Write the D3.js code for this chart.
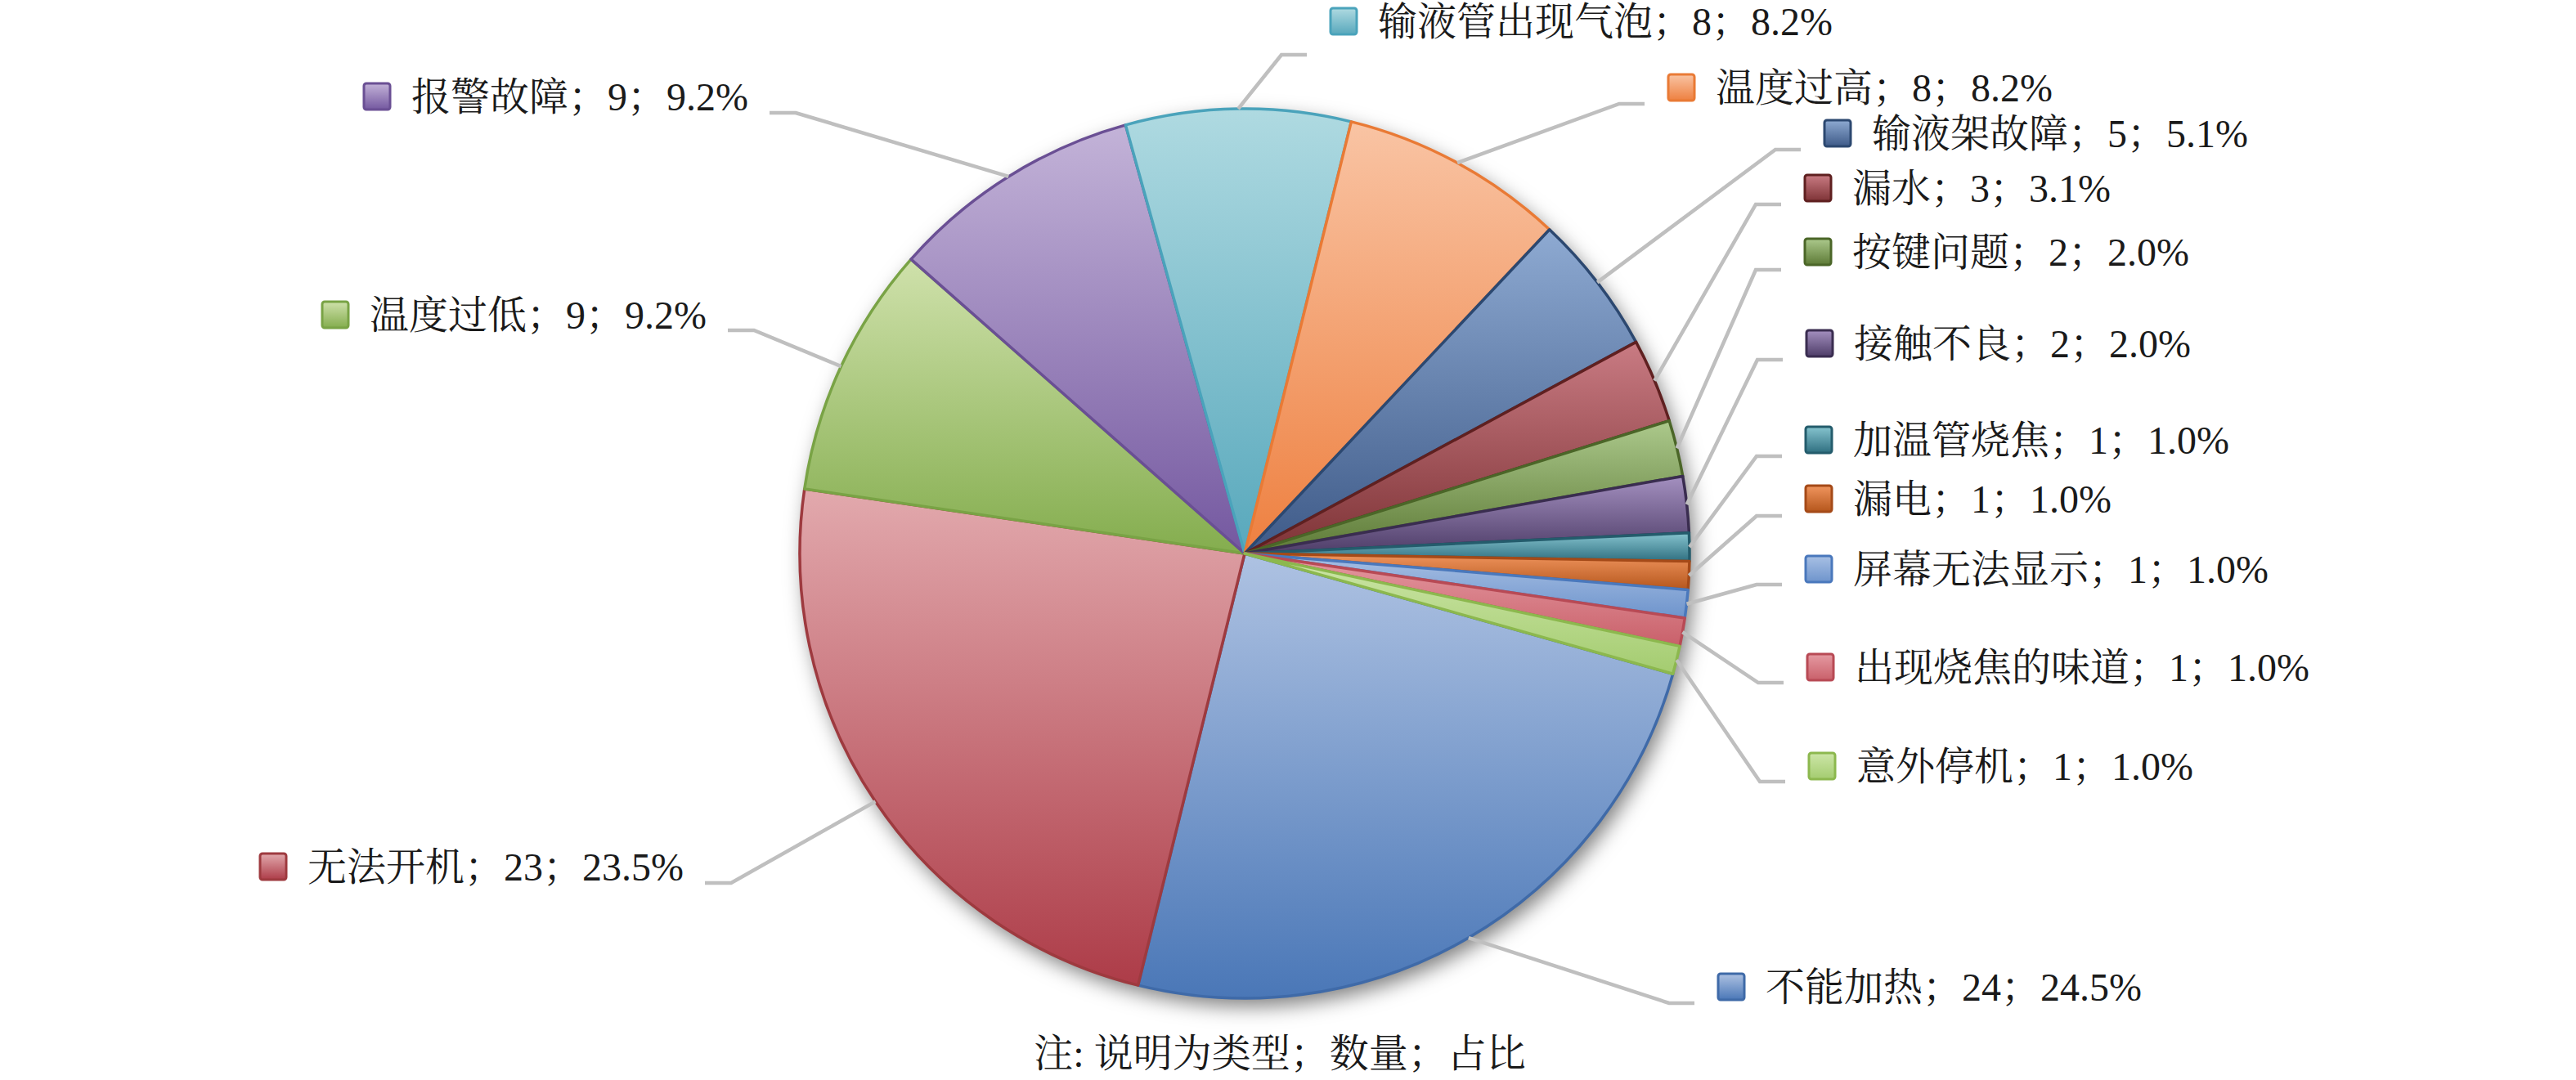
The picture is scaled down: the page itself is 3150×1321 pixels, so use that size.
<!DOCTYPE html>
<html>
<head>
<meta charset="utf-8">
<script src="https://cdn.jsdelivr.net/npm/d3@7"></script>
<style>
  html, body { margin: 0; padding: 0; background: #fff; }
  text { font-family: "Noto Serif CJK SC", "Noto Sans CJK SC", serif; fill: #1a1a1a; }
  tspan.num { font-family: "Liberation Serif", "Times New Roman", Tinos, "DejaVu Serif", serif; }
</style>
</head>
<body>
<div id="chart"></div>
<script>
// data, in the order the slices are drawn (clockwise)
var categories = ['不能加热', '无法开机', '温度过低', '报警故障', '输液管出现气泡', '温度过高',
  '输液架故障', '漏水', '按键问题', '接触不良', '加温管烧焦', '漏电',
  '屏幕无法显示', '出现烧焦的味道', '意外停机'];
var counts = [24, 23, 9, 9, 8, 8, 5, 3, 2, 2, 1, 1, 1, 1, 1];

// slice styles: gradient top, gradient bottom, outline
var fillTop = ['#aec2e2', '#e2a9ad', '#cfe1ab', '#c3b3d8', '#afdae1', '#f9c4a4',
  '#8eaad2', '#c97b83', '#acc98c', '#a490c0', '#86c4cf', '#f0955e',
  '#a8c0e4', '#e59aa2', '#cde6a8'];
var fillBottom = ['#4a77b7', '#ad3c48', '#84ad4e', '#7458a0', '#58a8bc', '#ee8040',
  '#3e5a88', '#7e3336', '#5d7a36', '#4e3d68', '#2f6f80', '#b5561c',
  '#6e94cc', '#c9606a', '#a4cc70'];
var strokeCol = ['#3f6aa8', '#9e3a3f', '#79a345', '#6a4f94', '#4aa3bb', '#e97a35',
  '#2c4870', '#5f2020', '#4b6628', '#3a2d50', '#245c6c', '#a54a18',
  '#4a78bc', '#b84a55', '#8cb84e'];

// label layout: key box left x, label centre y, leader line y, side
var labelX = [2101, 318, 394, 445, 1627, 2040, 2231, 2207, 2207, 2209, 2208, 2208, 2208, 2210, 2212];
var labelY = [1207, 1060, 385, 118, 26, 107, 163, 230, 308, 420, 538, 610, 696, 816, 937];
var lineY  = [1227, 1080, 404, 138, 67, 127, 183, 250, 330, 440, 558, 631, 715, 835, 956];
var side   = ['r', 'l', 'l', 'l', 'r', 'r', 'r', 'r', 'r', 'r', 'r', 'r', 'r', 'r', 'r'];

var width = 3150, height = 1321;
var cx = 1522, cy = 677, radius = 544;
var startDeg = 105.7;
var fontSize = 48, keySize = 32;

var total = d3.sum(counts);
var fmtPct = d3.format('.1%');

var svg = d3.select('#chart').append('svg')
  .attr('width', width)
  .attr('height', height)
  .style('display', 'block');

svg.append('rect').attr('width', width).attr('height', height).attr('fill', '#fff');

var defs = svg.append('defs');

var shadow = defs.append('filter').attr('id', 'shadow')
  .attr('x', '-20%').attr('y', '-20%').attr('width', '140%').attr('height', '140%');
shadow.append('feDropShadow')
  .attr('dx', 6).attr('dy', 10).attr('stdDeviation', 12)
  .attr('flood-color', '#000').attr('flood-opacity', 0.5);

categories.forEach(function (c, i) {
  var g = defs.append('linearGradient').attr('id', 'grad' + i)
    .attr('x1', 0).attr('y1', 0).attr('x2', 0).attr('y2', 1);
  g.append('stop').attr('offset', '0%').attr('stop-color', fillTop[i]);
  g.append('stop').attr('offset', '100%').attr('stop-color', fillBottom[i]);
});

var pie = d3.pie()
  .sort(null)
  .value(function (d) { return d; })
  .startAngle(startDeg * Math.PI / 180)
  .endAngle((startDeg + 360) * Math.PI / 180);

var arcs = pie(counts);

var arc = d3.arc().innerRadius(0).outerRadius(radius);

var chart = svg.append('g').attr('transform', 'translate(' + cx + ',' + cy + ')');

// shadow under the whole pie
chart.append('circle')
  .attr('r', radius)
  .attr('fill', '#fff')
  .attr('filter', 'url(#shadow)');

chart.selectAll('path.slice')
  .data(arcs)
  .enter()
  .append('path')
  .attr('class', 'slice')
  .attr('d', arc)
  .attr('fill', function (d, i) { return 'url(#grad' + i + ')'; })
  .attr('stroke', function (d, i) { return strokeCol[i]; })
  .attr('stroke-width', 3.5)
  .attr('stroke-linejoin', 'round');

// labels
var labels = svg.append('g');
var leaders = svg.append('g');

arcs.forEach(function (d, i) {
  var mid = (d.startAngle + d.endAngle) / 2;
  var px = cx + radius * Math.sin(mid);
  var py = cy - radius * Math.cos(mid);

  var lab = labels.append('g');
  lab.append('rect')
    .attr('x', labelX[i])
    .attr('y', labelY[i] - keySize / 2)
    .attr('width', keySize)
    .attr('height', keySize)
    .attr('rx', 3)
    .attr('fill', 'url(#grad' + i + ')')
    .attr('stroke', strokeCol[i])
    .attr('stroke-width', 3);

  var txt = lab.append('text')
    .attr('x', labelX[i] + 58)
    .attr('y', labelY[i])
    .attr('dy', '0.36em')
    .attr('font-size', fontSize);
  txt.append('tspan').text(categories[i] + '；');
  txt.append('tspan').attr('class', 'num').text(counts[i]);
  txt.append('tspan').text('；');
  txt.append('tspan').attr('class', 'num').text(fmtPct(counts[i] / total));

  var endX, elbowX;
  if (side[i] === 'r') {
    endX = labelX[i] - 29;
    elbowX = endX - 31;
  } else {
    endX = labelX[i] + 58 + txt.node().getComputedTextLength() + 26;
    elbowX = endX + 32;
  }

  leaders.append('polyline')
    .attr('points', [[px, py], [elbowX, lineY[i]], [endX, lineY[i]]].map(function (p) { return p.join(','); }).join(' '))
    .attr('fill', 'none')
    .attr('stroke', '#bfbfbf')
    .attr('stroke-width', 4.5);
});

var noteText = svg.append('text')
  .attr('x', 1565)
  .attr('y', 1288)
  .attr('dy', '0.36em')
  .attr('text-anchor', 'middle')
  .attr('font-size', fontSize);
noteText.append('tspan').text('注');
noteText.append('tspan').attr('class', 'num').text(': ');
noteText.append('tspan').text('说明为类型；数量；占比');
</script>
</body>
</html>
